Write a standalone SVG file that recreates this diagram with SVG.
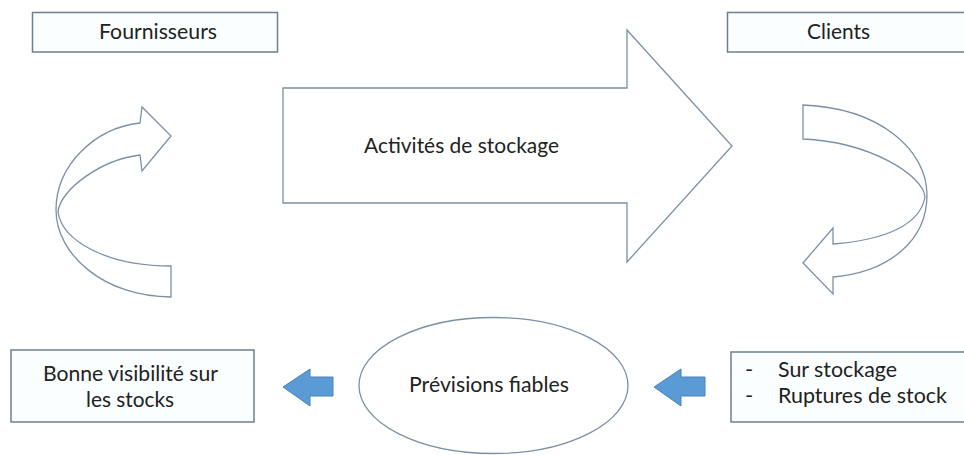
<svg xmlns="http://www.w3.org/2000/svg" width="964" height="455" viewBox="0 0 964 455">
<style>
.box{fill:#fbfeff;stroke:#6f7f8c;stroke-width:1.5}
.shape{fill:#ffffff;stroke:#7d90a3;stroke-width:1.3;stroke-linejoin:miter}
.blue{fill:#5b9bd5;stroke:#4a83b8;stroke-width:1}
.t{font-family:Lato,"Liberation Sans",sans-serif;font-size:22px;fill:#222222}
</style>
<rect width="964" height="455" fill="#ffffff"/>
<g id="fournisseurs">
<rect class="box" x="32.5" y="12.5" width="245" height="39.5"/>
<text class="t" x="99" y="39" textLength="118" lengthAdjust="spacingAndGlyphs">Fournisseurs</text>
</g>
<g id="clients">
<rect class="box" x="727.5" y="12.5" width="250" height="39.5"/>
<text class="t" x="807" y="39" textLength="63" lengthAdjust="spacingAndGlyphs">Clients</text>
</g>
<g id="activites">
<path class="shape" d="M283,88 L627,88 L627,30 L732,146 L627,262 L627,203 L283,203 Z"/>
<text class="t" x="364" y="153" textLength="195" lengthAdjust="spacingAndGlyphs">Activités de stockage</text>
</g>
<g id="boucle-gauche">
<path class="shape" d="M171,297 C105,297 56,255 56,210 C56,165 95,128 140,123 L142,107 L171,136 L142,171 L140,155 C100,160 60,190 58,212 C62,240 105,266 171,266 Z"/>
</g>
<g id="boucle-droite">
<path class="shape" d="M803,105 C880,108 927,150 927,195 C927,240 890,272 833,277 L833,294 L803,263 L833,228 L833,244 C885,240 920,225 925,197 C923,175 870,142 803,139 Z"/>
</g>
<g id="visibilite">
<rect class="box" x="11" y="350" width="243" height="72"/>
<text class="t" x="43" y="381" textLength="175" lengthAdjust="spacingAndGlyphs">Bonne visibilité sur</text>
<text class="t" x="86" y="407" textLength="88" lengthAdjust="spacingAndGlyphs">les stocks</text>
</g>
<g id="previsions">
<ellipse class="shape" cx="493.5" cy="385.5" rx="134.5" ry="68"/>
<text class="t" x="409" y="392" textLength="160" lengthAdjust="spacingAndGlyphs">Prévisions fiables</text>
</g>
<g id="ruptures">
<rect class="box" x="731" y="352" width="250" height="70"/>
<text class="t" x="745" y="377">-</text>
<text class="t" x="778" y="377" textLength="119" lengthAdjust="spacingAndGlyphs">Sur stockage</text>
<text class="t" x="745" y="403">-</text>
<text class="t" x="778" y="403" textLength="169" lengthAdjust="spacingAndGlyphs">Ruptures de stock</text>
</g>
<g id="connecteurs">
<path class="blue" d="M283,387 L310,369 L310,377 L333,377 L333,396 L310,396 L310,406 Z"/>
<path class="blue" d="M654,387 L681,369 L681,377 L705,377 L705,396 L681,396 L681,406 Z"/>
</g>
</svg>
